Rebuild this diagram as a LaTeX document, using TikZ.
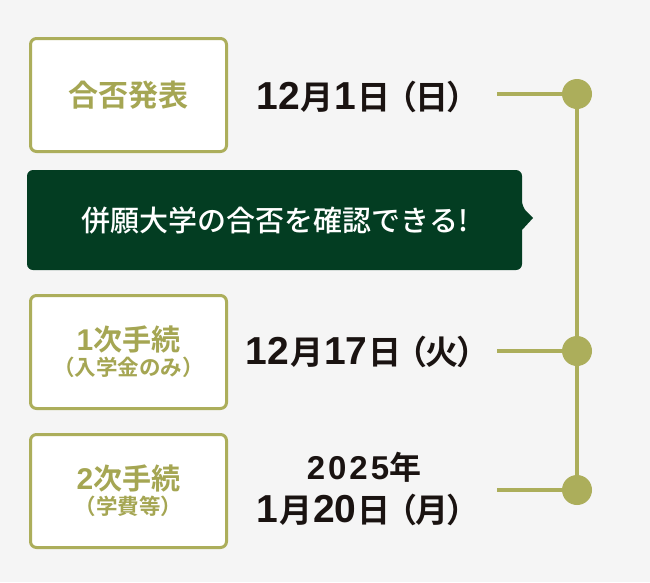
\documentclass[tikz,border=0pt]{standalone}
\usepackage{fontspec}
\setmainfont{Noto Sans CJK JP}[BoldFont={Noto Sans CJK JP Bold}]
\newfontfamily\jpmed{Noto Sans CJK JP Medium}
\newfontfamily\lat{Liberation Sans}
\usetikzlibrary{positioning}
\definecolor{bg}{HTML}{F5F5F5}
\definecolor{olive}{HTML}{ACAE5B}
\definecolor{olivetext}{HTML}{A5A653}
\definecolor{dgreen}{HTML}{033D22}
\definecolor{ink}{HTML}{1A1311}
\newcommand\lpar{\kern-0.2em（\kern-0.06em}
\newcommand\rpar{\kern-0.06em）\kern-0.2em}
\newcommand\dg[1]{{\lat\bfseries\fontsize{39}{40}\selectfont\kern1pt #1\kern1pt}}
\newcommand\yr[1]{{\lat\bfseries\fontsize{33}{33}\selectfont\addfontfeature{LetterSpace=9}#1}}
\newcommand\bd[1]{{\lat\bfseries\fontsize{30}{30}\selectfont #1}}
\tikzset{
  stepbox/.style={draw=olive, line width=3pt, fill=white, rounded corners=6pt,
    minimum width=196pt, anchor=north west, inner sep=0pt, text=olivetext,
    font=\bfseries, align=center},
  datetext/.style={text=ink, font=\bfseries\fontsize{33}{36}\selectfont, align=center, inner sep=0pt},
  tline/.style={draw=olive, line width=4pt},
  dot/.style={circle, fill=olive, minimum size=30pt, inner sep=0pt}
}
\begin{document}
\begin{tikzpicture}[x=1pt,y=-1pt]
\fill[bg] (0,0) rectangle (650,582);
\useasboundingbox (0,0) rectangle (650,582);
% boxes
\node[stepbox, minimum height=113pt] (b1) at (29,37) {\fontsize{30}{32}\selectfont 合否発表};
\node[stepbox, minimum height=113pt] (b2) at (29,294) {\fontsize{29}{30}\selectfont \bd{1}次手続\\[3pt]\fontsize{21.5}{24}\selectfont \kern-0.2em（入学金のみ）\kern-0.2em};
\node[stepbox, minimum height=113pt] (b3) at (29,433) {\fontsize{29}{30}\selectfont \bd{2}次手続\\[3pt]\fontsize{21.5}{24}\selectfont \kern-0.2em（学費等）\kern-0.2em};
% banner
\fill[dgreen, rounded corners=6pt] (27,170) -- (522,170) -- (522,207) [sharp corners]-- (533,218) -- (522,230) [rounded corners=6pt]-- (522,270) -- (27,270) -- cycle;
\node[text=white, font=\jpmed\fontsize{29}{32}\selectfont, inner sep=0pt] (banner) at (275,221) {併願大学の合否を確認できる!};
% dates
\node[datetext] (d1) at (364,97) {\dg{12}月\dg{1}日\lpar 日\rpar};
\node[datetext] (d2) at (364,352) {\dg{12}月\dg{17}日\lpar 火\rpar};
\node[datetext, font=\bfseries\fontsize{32}{34}\selectfont] (d3a) at (364,467) {\yr{2025}年};
\node[datetext] (d3b) at (364,510) {\dg{1}月\dg{20}日\lpar 月\rpar};
% timeline
\node[dot] (c1) at (577,94) {};
\node[dot] (c2) at (577,351) {};
\node[dot] (c3) at (577,490) {};
\coordinate (h1) at (497,94);
\coordinate (h2) at (497,351);
\coordinate (h3) at (497,490);
\draw[tline] (c1.center) -- (c3.center);
\draw[tline] (h1) -- (c1.center);
\draw[tline] (h2) -- (c2.center);
\draw[tline] (h3) -- (c3.center);
\end{tikzpicture}
\end{document}
